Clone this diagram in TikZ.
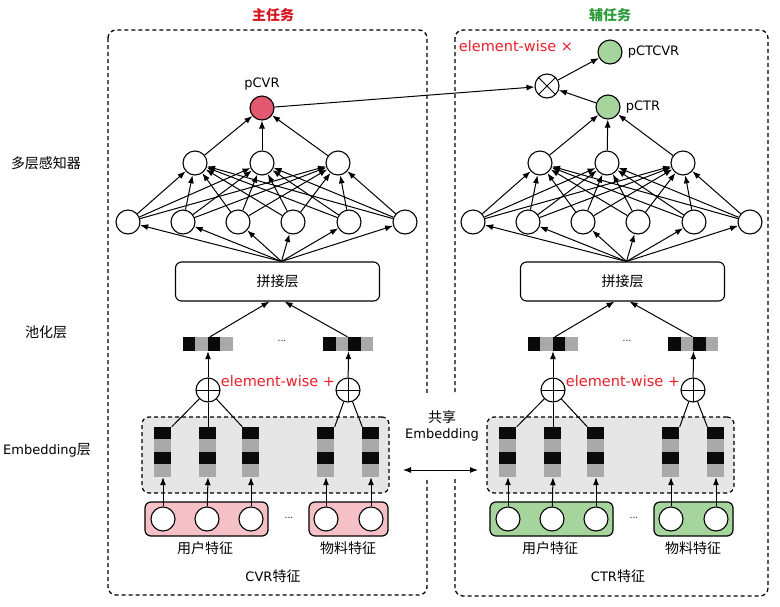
\documentclass[tikz,border=0pt]{standalone}
\usepackage{fontspec}
\setmainfont{DejaVu Sans}
\newfontfamily\cjk{Noto Sans CJK SC}
\usetikzlibrary{arrows.meta,calc}
\definecolor{titred}{HTML}{D4141E}
\definecolor{titgreen}{HTML}{2E9B3A}
\definecolor{ewred}{HTML}{E8202A}
\definecolor{rednode}{HTML}{E2586E}
\definecolor{greennode}{HTML}{A5D59D}
\definecolor{pinkf}{HTML}{F5C0C6}
\definecolor{greenf}{HTML}{A5D59D}
\definecolor{embgray}{HTML}{E6E6E6}
\definecolor{vgray}{HTML}{A9A9A9}
\definecolor{vblack}{HTML}{0A0A0A}
\tikzset{
  nd/.style={circle,draw,line width=1.1pt,fill=white,minimum size=24pt,inner sep=0pt},
  arr/.style={-{Latex[length=8pt,width=6pt]},line width=1pt},
  ln/.style={line width=1pt},
  panel/.style={draw,dashed,dash pattern=on 4pt off 3pt,line width=1.3pt,rounded corners=8pt},
  catbox/.style={draw,line width=1.1pt,rounded corners=6pt,minimum width=204pt,minimum height=39pt,inner sep=0pt,font=\cjk\fontsize{14}{16}\selectfont},
  embbox/.style={draw,dashed,dash pattern=on 4pt off 3pt,line width=1.2pt,rounded corners=7pt,fill=embgray,minimum width=247pt,minimum height=76pt,inner sep=0pt},
  fbox/.style={draw,line width=1.2pt,rounded corners=6pt,minimum height=34pt,inner sep=0pt},
  vecnode/.style={minimum width=50pt,minimum height=14pt,inner sep=0pt},
  colnode/.style={minimum width=17pt,minimum height=50pt,inner sep=0pt},
  oplus/.style={nd,path picture={\draw[line width=1pt] (path picture bounding box.north) -- (path picture bounding box.south) (path picture bounding box.west) -- (path picture bounding box.east);}},
  otimes/.style={nd,path picture={\draw[line width=1pt] (path picture bounding box.north west) -- (path picture bounding box.south east) (path picture bounding box.south west) -- (path picture bounding box.north east);}},
  lab/.style={font=\fontsize{13}{15}\selectfont,inner sep=1pt},
  clab/.style={font=\cjk\fontsize{14}{16}\selectfont,inner sep=1pt},
  ew/.style={font=\fontsize{14.5}{16}\selectfont,text=ewred,inner sep=1pt},
  ttl/.style={font=\cjk\bfseries\fontsize{14}{16}\selectfont,inner sep=1pt},
}
\begin{document}
\begin{tikzpicture}[x=1pt,y=-1pt]
\useasboundingbox (0,0) rectangle (780,606);
\fill[white] (0,0) rectangle (780,606);
% panels
\draw[panel] (108,30) rectangle (427,595);
\draw[panel] (455,30) rectangle (768,596);
\fill[white] (402,393) rectangle (482,479);
% titles
\node[ttl,text=titred] (t1) at (273,15) {主任务};
\node[ttl,text=titgreen] (t2) at (610,15) {辅任务};
% layer labels
\node[clab] (l1) at (46,163) {多层感知器};
\node[clab] (l2) at (46,332) {池化层};
\node[lab] (l3) at (47,450) {Embedding{\cjk\fontsize{14}{16}\selectfont 层}};

\foreach \ox/\p/\fc in {0/L/pinkf,345/R/greenf}{
\begin{scope}[xshift=\ox pt]
  % MLP
  \foreach \i/\xx in {1/128,2/183,3/238,4/293,5/349,6/405}
    \node[nd] (\p-b\i) at (\xx,222) {};
  \foreach \j/\xx in {1/195,2/262,3/338}
    \node[nd] (\p-m\j) at (\xx,163) {};
  \foreach \i in {1,...,6}{\foreach \j in {1,2,3}{\draw[arr] (\p-b\i) -- (\p-m\j);}}
  \node[catbox] (\p-cat) at (277.5,281.5) {拼接层};
  \foreach \i in {1,...,6}\draw[arr] ([xshift=4pt]\p-cat.north) -- (\p-b\i);
  % pooling vectors
  \node[vecnode] (\p-v1) at (208,344) {};
  \node[vecnode] (\p-v2) at (348.5,344) {};
  \foreach \v in {v1,v2}{
    \fill[vblack] (\p-\v.north west) rectangle ++(12.5,14);
    \fill[vgray] ($(\p-\v.north west)+(12.5,0)$) rectangle ++(12.5,14);
    \fill[vblack] ($(\p-\v.north west)+(25,0)$) rectangle ++(12.5,14);
    \fill[vgray] ($(\p-\v.north west)+(37.5,0)$) rectangle ++(12.5,14);
  }
  \node[font=\fontsize{9}{10}\selectfont,inner sep=1pt] (\p-d1) at (282,341) {...};
  \draw[arr] ([xshift=2pt]\p-v1.north) -- ([xshift=-8pt]\p-cat.south);
  \draw[arr] ([xshift=-1pt]\p-v2.north) -- ([xshift=7pt]\p-cat.south);
  % plus
  \node[oplus] (\p-pl1) at (208,390) {};
  \node[oplus] (\p-pl2) at (348,390) {};
  \draw[arr] (\p-pl1) -- (\p-v1.south);
  \draw[arr] (\p-pl2) -- (\p-v2.south);
  \node[ew] (\p-ew) at (278,381) {element-wise +};
  % embedding
  \node[embbox] (\p-emb) at (265.5,455) {};
  \foreach \k/\xx in {1/163,2/208,3/251,4/326,5/371}{
    \node[colnode] (\p-e\k) at (\xx,452) {};
    \fill[vblack] (\p-e\k.north west) rectangle ++(17,12.5);
    \fill[vgray] ($(\p-e\k.north west)+(0,12.5)$) rectangle ++(17,12.5);
    \fill[vblack] ($(\p-e\k.north west)+(0,25)$) rectangle ++(17,12.5);
    \fill[vgray] ($(\p-e\k.north west)+(0,37.5)$) rectangle ++(17,12.5);
  }
  \draw[ln] (\p-pl1) -- (\p-e1.north east);
  \draw[ln] (\p-pl1) -- (\p-e2.north);
  \draw[ln] (\p-pl1) -- (\p-e3.north west);
  \draw[ln] (\p-pl2) -- (\p-e4.north east);
  \draw[ln] (\p-pl2) -- (\p-e5.north west);
  % features
  \node[fbox,fill=\fc,minimum width=123pt] (\p-f1) at (206.5,519) {};
  \node[fbox,fill=\fc,minimum width=79pt] (\p-f2) at (348.5,519) {};
  \foreach \k/\xx in {1/163,2/207,3/251,4/326,5/371}{
    \node[nd] (\p-c\k) at (\xx,519) {};
    \draw[arr] (\p-c\k) -- (\p-e\k.south);
  }
  \node[font=\fontsize{9}{10}\selectfont,inner sep=1pt] (\p-d2) at (289,518) {...};
  \node[clab] (\p-u) at (205,548) {用户特征};
  \node[clab] (\p-w) at (348,548) {物料特征};
\end{scope}
}
\node[lab] (cvrf) at (273,576) {CVR{\cjk\fontsize{14}{16}\selectfont 特征}};
\node[lab] (ctrf) at (618,576) {CTR{\cjk\fontsize{14}{16}\selectfont 特征}};
% outputs
\node[nd,fill=rednode] (pcvr) at (262,108) {};
\node[lab,above=4pt] (pcvrl) at (pcvr.north) {pCVR};
\foreach \j in {1,2,3}\draw[arr] (L-m\j) -- (pcvr);
\node[nd,fill=greennode] (pctr) at (608,107) {};
\node[lab,right=4pt] (pctrl) at (pctr.east) {pCTR};
\foreach \j in {1,2,3}\draw[arr] (R-m\j) -- (pctr);
\node[otimes] (mul) at (547,86) {};
\node[nd,fill=greennode] (pctcvr) at (610,52) {};
\node[lab,right=4pt] (pctcvrl) at (pctcvr.east) {pCTCVR};
\draw[arr] (pcvr) -- (mul);
\draw[arr] (pctr) -- (mul);
\draw[arr] (mul) -- (pctcvr);
\node[ew] (ewx) at (516,46) {element-wise ×};
% shared embedding
\node[lab,align=center] (share) at (442,426) {{\cjk\fontsize{14}{16}\selectfont 共享}\\[1pt]Embedding};
\coordinate (sa) at (403,470);
\coordinate (sb) at (478,470);
\draw[{Latex[length=8pt,width=6pt]}-{Latex[length=8pt,width=6pt]},line width=1pt] (sa) -- (sb);
\end{tikzpicture}
\end{document}
